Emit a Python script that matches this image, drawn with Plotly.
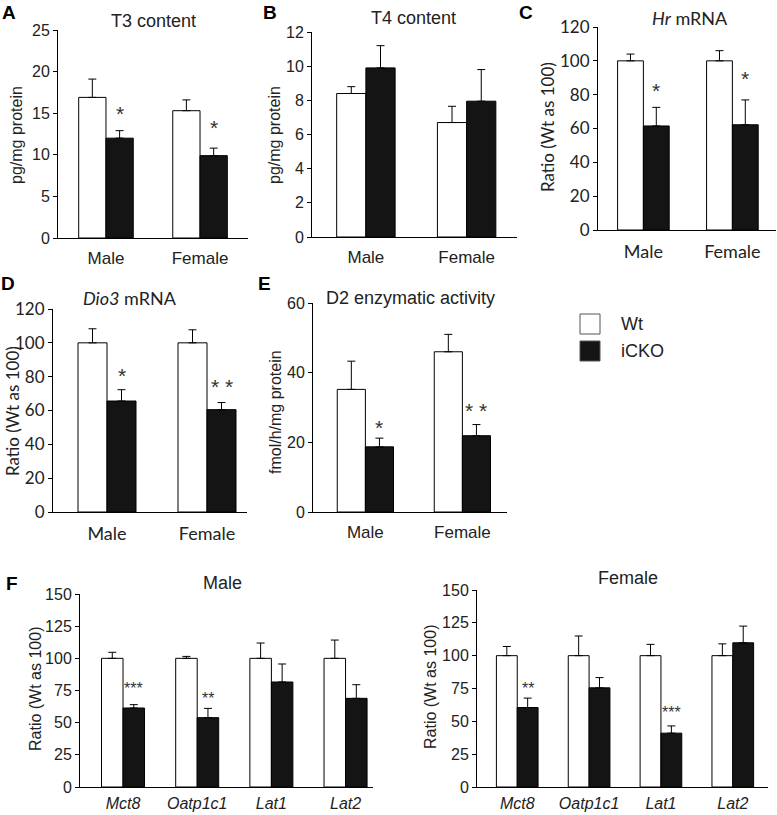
import plotly.graph_objects as go

# ---- data ----
sex = ["Male", "Female"]
genes = ["Mct8", "Oatp1c1", "Lat1", "Lat2"]

t3_wt = [16.9, 15.3]
t3_wt_err = [2.2, 1.3]
t3_cko = [12.0, 9.9]
t3_cko_err = [0.9, 0.9]

t4_wt = [8.4, 6.7]
t4_wt_err = [0.4, 0.95]
t4_cko = [9.9, 7.95]
t4_cko_err = [1.3, 1.85]

hr_wt = [100, 100]
hr_wt_err = [4, 6]
hr_cko = [61.5, 62.2]
hr_cko_err = [11, 14.7]

dio3_wt = [100, 100]
dio3_wt_err = [8.3, 7.7]
dio3_cko = [65.6, 60.5]
dio3_cko_err = [6.7, 4.2]

d2_wt = [35.2, 46.0]
d2_wt_err = [8.1, 5.0]
d2_cko = [18.7, 21.9]
d2_cko_err = [2.5, 3.2]

male_wt = [100, 100, 100, 100]
male_wt_err = [4.7, 1.5, 11.9, 14.2]
male_cko = [61.4, 53.9, 81.6, 68.9]
male_cko_err = [2.6, 7.2, 14.0, 10.6]

female_wt = [100, 100, 100, 100]
female_wt_err = [7.0, 15.0, 8.6, 9.0]
female_cko = [60.5, 75.5, 41.0, 109.8]
female_cko_err = [7.2, 7.8, 5.5, 12.7]

# significance marks: (category index, y, text)
t3_sig = [(0, 15.4, "*"), (1, 13.8, "*")]
hr_sig = [(0, 84.6, "*"), (1, 92, "*")]
dio3_sig = [(0, 83, "*"), (1, 76.7, "* *")]
d2_sig = [(0, 25.5, "*"), (1, 30.3, "* *")]
male_sig = [(0, 79.5, "***"), (1, 71.8, "**")]
female_sig = [(0, 78, "**"), (2, 60, "***")]

W, H = 777, 815
ARIAL = "Liberation Sans, Arial"
CALIBRI = "Lato, Calibri"


def fx(p):
    return p / W


def fy(p):
    return 1 - p / H


panels = [
    dict(wt=t3_wt, wt_err=t3_wt_err, cko=t3_cko, cko_err=t3_cko_err, cats=sex, sig=t3_sig,
         box=(58, 248, 30, 238), ymax=25, dtick=5, xr=(-0.51, 1.51), font=ARIAL,
         title="T3 content", tpos=(153, 21), ytitle="pg/mg protein", ytpos=(17, 135),
         letter="A", lpos=(9, 12), sigsize=21, italic=False),
    dict(wt=t4_wt, wt_err=t4_wt_err, cko=t4_cko, cko_err=t4_cko_err, cats=sex, sig=[],
         box=(312, 517, 32, 237), ymax=12, dtick=2, xr=(-0.535, 1.5), font=ARIAL,
         title="T4 content", tpos=(413, 18), ytitle="pg/mg protein", ytpos=(275, 135),
         letter="B", lpos=(270, 12), sigsize=21, italic=False),
    dict(wt=hr_wt, wt_err=hr_wt_err, cko=hr_cko, cko_err=hr_cko_err, cats=sex, sig=hr_sig,
         box=(598, 776, 27, 230), ymax=120, dtick=20, xr=(-0.51, 1.49), font=CALIBRI,
         title="<i>Hr</i> mRNA", tpos=(690, 18), ytitle="Ratio (Wt as 100)", ytpos=(548, 127),
         letter="C", lpos=(526, 12), sigsize=21, italic=False),
    dict(wt=dio3_wt, wt_err=dio3_wt_err, cko=dio3_cko, cko_err=dio3_cko_err, cats=sex, sig=dio3_sig,
         box=(53, 247, 309, 512), ymax=120, dtick=20, xr=(-0.54, 1.4), font=CALIBRI,
         title="<i>Dio3</i> mRNA", tpos=(130, 298), ytitle="Ratio (Wt as 100)", ytpos=(12, 411),
         letter="D", lpos=(8, 283), sigsize=21, italic=False),
    dict(wt=d2_wt, wt_err=d2_wt_err, cko=d2_cko, cko_err=d2_cko_err, cats=sex, sig=d2_sig,
         box=(313, 507, 303, 512), ymax=60, dtick=20, xr=(-0.54, 1.46), font=ARIAL,
         title="D2 enzymatic activity", tpos=(410, 298), ytitle="fmol/h/mg protein", ytpos=(275, 412),
         letter="E", lpos=(264, 283), sigsize=21, italic=False),
    dict(wt=male_wt, wt_err=male_wt_err, cko=male_cko, cko_err=male_cko_err, cats=genes, sig=male_sig,
         box=(80, 373, 594, 787), ymax=150, dtick=25, xr=(-0.58, 3.37), font=ARIAL,
         title="Male", tpos=(222, 583), ytitle="Ratio (Wt as 100)", ytpos=(35, 689),
         letter="F", lpos=(12, 583), sigsize=16, italic=True),
    dict(wt=female_wt, wt_err=female_wt_err, cko=female_cko, cko_err=female_cko_err, cats=genes, sig=female_sig,
         box=(477, 768, 590, 787), ymax=150, dtick=25, xr=(-0.56, 3.49), font=ARIAL,
         title="Female", tpos=(628, 578), ytitle="Ratio (Wt as 100)", ytpos=(430, 687),
         letter=None, lpos=None, sigsize=16, italic=True),
]

fig = go.Figure()
annotations = []
layout = {}

for i, p in enumerate(panels):
    n = "" if i == 0 else str(i + 1)
    xref, yref = "x" + n, "y" + n
    xs = list(range(len(p["cats"])))
    err_style = dict(type="data", symmetric=False, color="black", thickness=1, width=4)
    fig.add_trace(go.Bar(
        x=xs, y=p["wt"], xaxis=xref, yaxis=yref, name="Wt", showlegend=False,
        marker=dict(color="white", line=dict(color="black", width=1)),
        error_y=dict(array=p["wt_err"], arrayminus=[0] * len(xs), **err_style)))
    fig.add_trace(go.Bar(
        x=xs, y=p["cko"], xaxis=xref, yaxis=yref, name="iCKO", showlegend=False,
        marker=dict(color="#141414", line=dict(color="black", width=1)),
        error_y=dict(array=p["cko_err"], arrayminus=[0] * len(xs), **err_style)))

    x0, x1, yt, yb = p["box"]
    big = p["font"] == CALIBRI
    gene_axis = p["italic"]
    ticktext = ["<i>%s</i>" % c if gene_axis else c for c in p["cats"]]
    layout["xaxis" + n] = dict(
        domain=[fx(x0), fx(x1)], anchor=yref, range=list(p["xr"]), automargin=False,
        tickvals=xs, ticktext=ticktext, ticks="", showline=True, linecolor="black",
        linewidth=1, showgrid=False, zeroline=False,
        ticklabelstandoff=2 if gene_axis else 5,
        tickfont=dict(family=p["font"], size=18 if big else (16 if gene_axis else 17), color="#222"))
    layout["yaxis" + n] = dict(
        domain=[fy(yb), fy(yt)], anchor=xref, range=[0, p["ymax"]], dtick=p["dtick"],
        automargin=False, ticks="outside", ticklen=4, tickcolor="black",
        showline=True, linecolor="black", linewidth=1, showgrid=False, zeroline=False,
        tickfont=dict(family=p["font"], size=17 if big else 16, color="#222"))

    annotations.append(dict(
        text=p["title"], x=fx(p["tpos"][0]), y=fy(p["tpos"][1]), xref="paper", yref="paper",
        showarrow=False, xanchor="center", yanchor="middle",
        font=dict(family=p["font"], size=18, color="#222")))
    annotations.append(dict(
        text=p["ytitle"], x=fx(p["ytpos"][0]), y=fy(p["ytpos"][1]), xref="paper", yref="paper",
        showarrow=False, xanchor="center", yanchor="middle", textangle=-90,
        font=dict(family=p["font"], size=17 if big else 16, color="#222")))
    if p["letter"]:
        annotations.append(dict(
            text="<b>%s</b>" % p["letter"], x=fx(p["lpos"][0]), y=fy(p["lpos"][1]),
            xref="paper", yref="paper", showarrow=False, xanchor="center", yanchor="middle",
            font=dict(family=ARIAL, size=19, color="black")))
    for ci, yv, txt in p["sig"]:
        annotations.append(dict(
            text=txt, x=ci + 0.145, y=yv, xref=xref, yref=yref, showarrow=False,
            xanchor="center", yanchor="middle", yshift=-4,
            font=dict(family=ARIAL, size=p["sigsize"], color="#333")))

# legend drawn as boxes + labels
legend_items = [("Wt", "white", 324), ("iCKO", "#141414", 351)]
shapes = []
for label, color, yc in legend_items:
    shapes.append(dict(type="rect", xref="paper", yref="paper",
                       x0=fx(580), x1=fx(600), y0=fy(yc + 10), y1=fy(yc - 10),
                       fillcolor=color, line=dict(color="#555", width=1)))
    annotations.append(dict(text=label, x=fx(619), y=fy(yc), xref="paper", yref="paper",
                            showarrow=False, xanchor="left", yanchor="middle",
                            font=dict(family=ARIAL, size=18, color="#222")))

fig.update_layout(
    template="none",
    width=W, height=H, margin=dict(l=0, r=0, t=0, b=0, pad=0, autoexpand=False),
    paper_bgcolor="white", plot_bgcolor="white", showlegend=False,
    barmode="group", bargap=0.42, bargroupgap=0,
    annotations=annotations, shapes=shapes, **layout)

# pin the graph to the window's top-left corner so page margins don't shift it
pin = ("var gd = document.getElementById('{plot_id}');"
       "gd.style.position = 'fixed'; gd.style.top = '0px'; gd.style.left = '0px';"
       "document.body.style.margin = '0';"
       "document.documentElement.style.overflow = 'hidden';")
fig.write_html("out.html", post_script=pin, config={"displayModeBar": False})
